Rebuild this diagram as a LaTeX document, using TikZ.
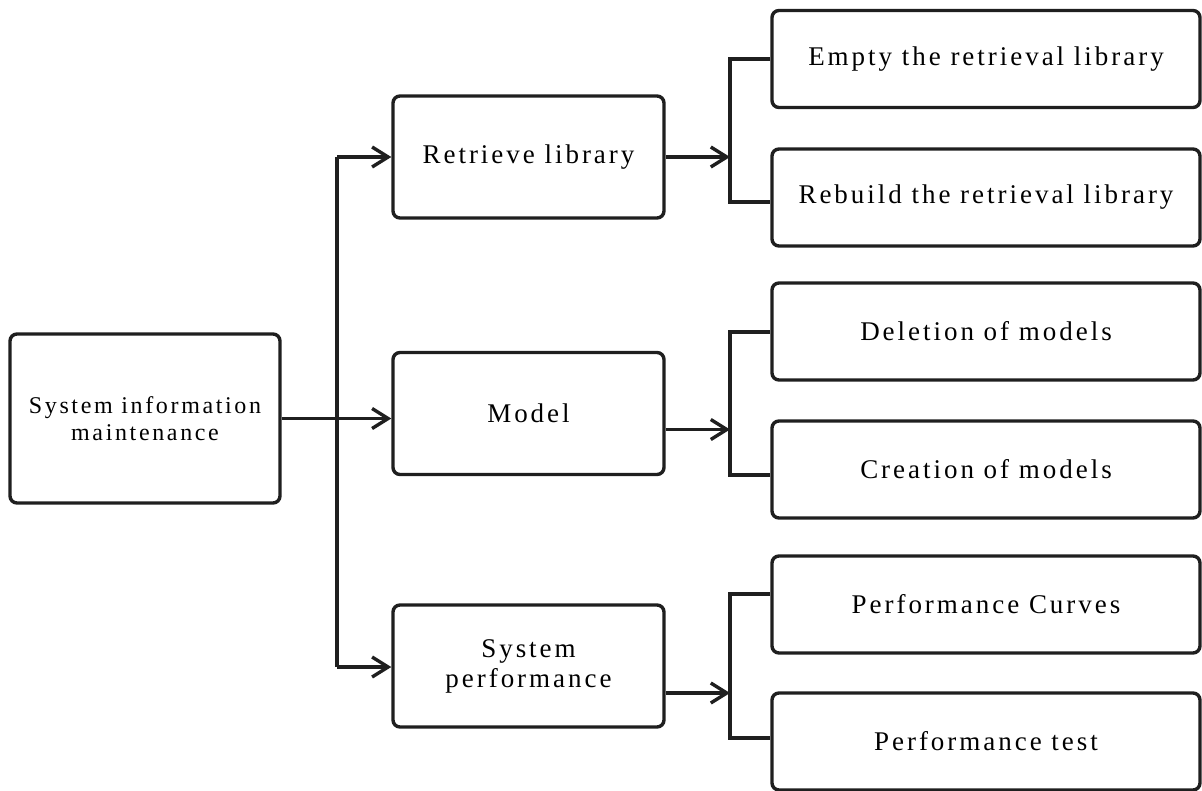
\documentclass[tikz,border=0pt]{standalone}
\usepackage{fontspec}
\setmainfont{Liberation Serif}[LetterSpace=11]
\usetikzlibrary{arrows.meta}
\begin{document}
\begin{tikzpicture}[x=1pt,y=-1pt,
  box/.style={draw=black!88, line width=3.4pt, rounded corners=7pt, align=center, inner sep=0pt},
  rootbox/.style={box, minimum width=270pt, minimum height=169pt, font=\fontsize{24}{26.5}\selectfont},
  midbox/.style={box, minimum width=271pt, minimum height=122pt, font=\fontsize{27}{30}\selectfont},
  leafbox/.style={box, minimum width=428pt, minimum height=97pt, font=\fontsize{27}{30}\selectfont},
  conn/.style={line width=3.4pt, draw=black!88},
  arr/.style={conn, -{Straight Barb[length=16pt,width=20pt]}}
]
\useasboundingbox (0,0) rectangle (1202,790);
\clip (0,0) rectangle (1202,790);

% root
\node[rootbox] (root) at (145,418.5) {System information\\maintenance};

% second level
\node[midbox] (ret) at (528.5,157) {Retrieve library};
\node[midbox] (mod) at (528.5,413.5) {Model};
\node[midbox] (sys) at (528.5,666) {System\\performance};

% leaves
\node[leafbox] (empty)    at (986,59)    {Empty the retrieval library};
\node[leafbox] (rebuild)  at (986,197.5) {Rebuild the retrieval library};
\node[leafbox] (deletion) at (986,331.5) {Deletion of models};
\node[leafbox] (creation) at (986,469.5) {Creation of models};
\node[leafbox] (curves)   at (986,604.5) {Performance Curves};
\node[leafbox] (test)     at (986,741.5) {Performance test};

% trunk from the root
\coordinate (busA) at (337,157);
\coordinate (busB) at (337,667);
\draw[arr] (root.east) -- (root.east -| mod.west);
\draw[conn] (busA) -- (busB);
\draw[arr] (busA) -- (busA -| ret.west);
\draw[arr] (busB) -- (busB -| sys.west);

% brackets towards the leaves
\coordinate (r1) at (730,59);  \coordinate (r2) at (730,202);
\coordinate (m1) at (730,332); \coordinate (m2) at (730,475);
\coordinate (s1) at (730,594); \coordinate (s2) at (730,738);

\draw[arr] (ret.east) -- (ret.east -| r1);
\draw[arr] ([yshift=-16pt]mod.east) -- ([yshift=-16pt]mod.east -| m1);
\draw[arr] ([yshift=-27pt]sys.east) -- ([yshift=-27pt]sys.east -| s1);

\draw[conn] (r1 -| empty.west) -- (r1) -- (r2) -- (r2 -| rebuild.west);
\draw[conn] (m1 -| deletion.west) -- (m1) -- (m2) -- (m2 -| creation.west);
\draw[conn] (s1 -| curves.west) -- (s1) -- (s2) -- (s2 -| test.west);
\end{tikzpicture}
\end{document}
